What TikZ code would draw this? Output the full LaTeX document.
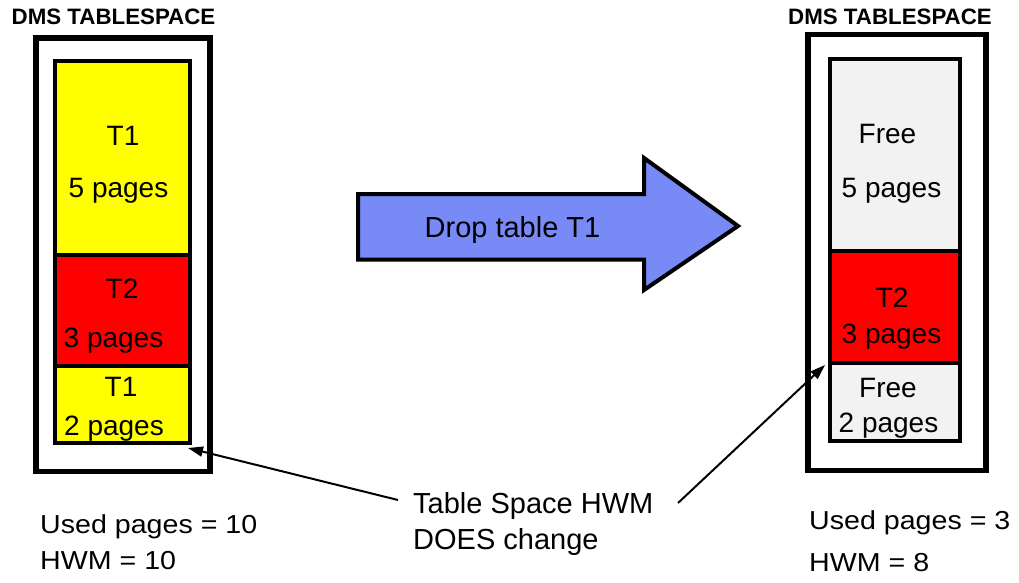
\documentclass[tikz,border=0pt]{standalone}
\usepackage{fontspec}
\setmainfont{Liberation Sans}
\usetikzlibrary{arrows.meta}
\definecolor{usedyellow}{RGB}{255,255,0}
\definecolor{usedred}{RGB}{255,0,0}
\definecolor{freegray}{RGB}{242,242,242}
\definecolor{dropblue}{RGB}{120,138,246}

\begin{document}
\begin{tikzpicture}[x=1pt,y=-1pt,
  outerbox/.style={line width=5.5pt},
  innerbox/.style={line width=4pt},
  segtext/.style={inner sep=0pt, anchor=base, font=\fontsize{28}{30}\selectfont},
  tstitle/.style={inner sep=0pt, anchor=base, font=\bfseries\fontsize{22.3}{25}\selectfont},
  stats/.style={inner sep=0pt, anchor=base west, xscale=1.1, font=\fontsize{26}{28}\selectfont},
  note/.style={inner sep=0pt, anchor=base west, font=\fontsize{29}{31}\selectfont},
  pointer/.style={line width=2pt, -{Triangle[length=15pt,width=10pt]}}]
\useasboundingbox (0,0) rectangle (1019,583);

% ---- left tablespace: before the drop ----
\node[tstitle] (ltitle) at (113.5,25) {DMS TABLESPACE};
\fill[usedyellow] (55,61) rectangle (189.5,255);
\fill[usedred]    (55,255) rectangle (189.5,365.5);
\fill[usedyellow] (55,365.5) rectangle (189.5,442.5);
\draw[innerbox] (55,61) rectangle (189.5,442.5);
\draw[innerbox] (55,255) -- (189.5,255);
\draw[innerbox] (55,365.5) -- (189.5,365.5);
\draw[outerbox] (36,38) rectangle (210,471.5);
\node[segtext] (lt1a) at (123,145) {T1};
\node[segtext] (lp5)  at (118.5,197) {5 pages};
\node[segtext] (lt2)  at (122,298) {T2};
\node[segtext] (lp3)  at (113.5,347) {3 pages};
\node[segtext] (lt1b) at (121,396) {T1};
\node[segtext] (lp2)  at (114,435) {2 pages};
\coordinate (lhwm) at (188,448);

% ---- right tablespace: after the drop ----
\node[tstitle] (rtitle) at (890,25) {DMS TABLESPACE};
\fill[freegray] (829.5,59.5) rectangle (959.5,250.5);
\fill[usedred]  (829.5,250.5) rectangle (959.5,362.5);
\fill[freegray] (829.5,362.5) rectangle (959.5,440.5);
\draw[innerbox] (829.5,59.5) rectangle (959.5,440.5);
\draw[innerbox] (829.5,250.5) -- (959.5,250.5);
\draw[innerbox] (829.5,362.5) -- (959.5,362.5);
\draw[outerbox] (808,34.5) rectangle (986,470.5);
\node[segtext] (rf5)  at (887.5,143) {Free};
\node[segtext] (rp5)  at (891.5,197) {5 pages};
\node[segtext] (rt2)  at (892,307) {T2};
\node[segtext] (rp3)  at (891.5,343) {3 pages};
\node[segtext] (rf2)  at (888,397) {Free};
\node[segtext] (rp2)  at (888.5,432) {2 pages};
\coordinate (rhwm) at (825,365);

% ---- block arrow ----
\draw[line width=4pt, fill=dropblue, line join=miter]
  (358,194) -- (644,194) -- (644,158) -- (738,226) -- (644,290)
  -- (644,259.5) -- (358,259.5) -- cycle;
\node[inner sep=0pt, anchor=base, font=\fontsize{29}{31}\selectfont] (drop) at (512.5,237) {Drop table T1};

% ---- HWM note and pointers ----
\node[note] (hwm1) at (413,513) {Table Space HWM};
\node[note] (hwm2) at (413,549) {DOES change};
\coordinate (ltail) at (398,500);
\coordinate (rtail) at (678,503);
\draw[pointer] (ltail) -- (lhwm);
\draw[pointer] (rtail) -- (rhwm);

% ---- page counts ----
\node[stats] (lused) at (40,533) {Used pages = 10};
\node[stats] (lmark) at (40,569) {HWM = 10};
\node[stats] (rused) at (809,529) {Used pages = 3};
\node[stats] (rmark) at (809,571) {HWM = 8};
\end{tikzpicture}
\end{document}
